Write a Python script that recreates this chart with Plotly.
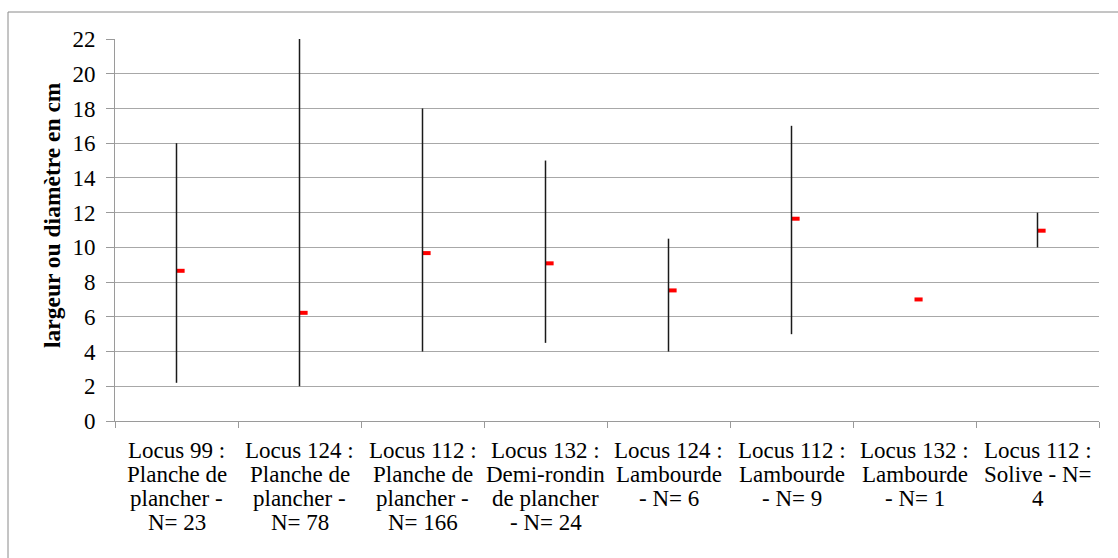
import plotly.graph_objects as go

# ---- data ----
categories = [
    "Locus 99 : Planche de plancher - N= 23",
    "Locus 124 : Planche de plancher - N= 78",
    "Locus 112 : Planche de plancher - N= 166",
    "Locus 132 : Demi-rondin de plancher - N= 24",
    "Locus 124 : Lambourde - N= 6",
    "Locus 112 : Lambourde - N= 9",
    "Locus 132 : Lambourde - N= 1",
    "Locus 112 : Solive - N= 4",
]
label_lines = [
    ["Locus 99 :", "Planche de", "plancher -", "N= 23"],
    ["Locus 124 :", "Planche de", "plancher -", "N= 78"],
    ["Locus 112 :", "Planche de", "plancher -", "N= 166"],
    ["Locus 132 :", "Demi-rondin", "de plancher", "- N= 24"],
    ["Locus 124 :", "Lambourde", "- N= 6"],
    ["Locus 112 :", "Lambourde", "- N= 9"],
    ["Locus 132 :", "Lambourde", "- N= 1"],
    ["Locus 112 :", "Solive - N=", "4"],
]
high_values = [16, 22, 18, 15, 10.5, 17, 7.0, 12]
low_values = [2.2, 2.0, 4.0, 4.5, 4.0, 5.0, 7.0, 10.0]
mean_values = [8.65, 6.23, 9.67, 9.08, 7.52, 11.65, 7.0, 10.96]
y_ticks = list(range(0, 23, 2))
y_title = "largeur ou diamètre en cm"

FONT = "Liberation Serif"
W, H = 1118, 558
ML, MR, MT, MB = 115, 19, 39, 137
PW, PH = W - ML - MR, H - MT - MB

fig = go.Figure()

# high-low lines
hx, hy = [], []
for c, lo, hi in zip(categories, low_values, high_values):
    hx += [c, c, None]
    hy += [lo, hi, None]
fig.add_trace(go.Scatter(x=hx, y=hy, mode="lines",
                         line=dict(color="#1a1a1a", width=1.5),
                         showlegend=False, hoverinfo="skip"))

# mean dash (to the right of the line, like Excel's close tick)
dash_h = 0.23
fig.add_trace(go.Bar(x=categories, y=[dash_h] * len(categories),
                     base=[m - dash_h / 2 for m in mean_values],
                     width=0.066, offset=0,
                     marker=dict(color="#ff0000", line=dict(width=0)),
                     showlegend=False, hoverinfo="skip"))

annotations = []
for c, lines in zip(categories, label_lines):
    for i, t in enumerate(lines):
        annotations.append(dict(
            x=c, xref="x", xanchor="center", y=0, yref="paper", yanchor="middle",
            yshift=-(29 + 24 * i), text=t, showarrow=False,
            font=dict(family=FONT, size=23, color="#000000")))

annotations.append(dict(
    x=(52 - ML) / PW, xref="paper", xanchor="center",
    y=(H - MB - 215) / PH, yref="paper", yanchor="middle",
    text="<b>" + y_title + "</b>", textangle=-90, showarrow=False,
    font=dict(family=FONT, size=23.5, color="#000000")))

fig.update_layout(
    width=W, height=H,
    margin=dict(l=ML, r=MR, t=MT, b=MB, pad=0),
    paper_bgcolor="white", plot_bgcolor="white",
    barmode="overlay",
    font=dict(family=FONT),
    annotations=annotations,
    xaxis=dict(type="category", categoryorder="array", categoryarray=categories,
               range=[-0.5, len(categories) - 0.5],
               showticklabels=False, showgrid=False, zeroline=False,
               showline=True, linecolor="#9a9a9a", linewidth=1,
               ticks="outside", tickson="boundaries", ticklen=6,
               tickcolor="#9a9a9a", tickwidth=1),
    yaxis=dict(range=[0, 22], tickvals=y_ticks, ticktext=[str(v) for v in y_ticks],
               showgrid=True, gridcolor="#a8a8a8", gridwidth=1, zeroline=False,
               showline=True, linecolor="#9a9a9a", linewidth=1,
               ticks="outside", ticklen=8, tickcolor="#9a9a9a", tickwidth=1,
               ticklabelstandoff=6,
               tickfont=dict(family=FONT, size=23, color="#000000")),
    shapes=[dict(type="rect", xref="paper", yref="paper",
                 x0=(8 - ML) / PW, x1=(W + 5 - ML) / PW,
                 y0=(H - MB - (H + 5)) / PH, y1=(H - MB - 12) / PH,
                 line=dict(color="#8a8a8a", width=1), layer="below")],
)

fig.write_html("out.html", config={"displayModeBar": False},
               post_script="document.body.style.margin='0';document.body.style.overflow='hidden';")
